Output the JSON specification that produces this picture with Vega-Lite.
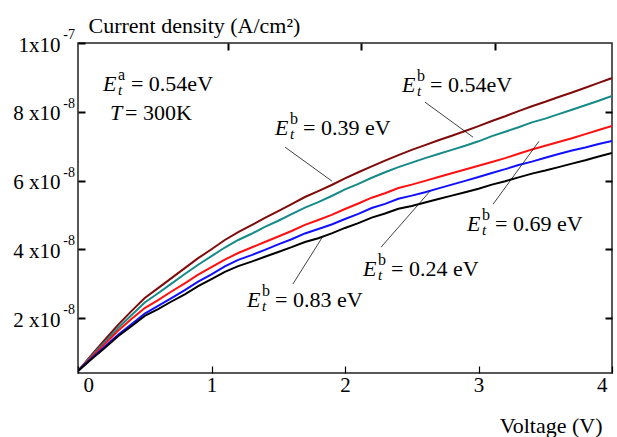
{
  "$schema": "https://vega.github.io/schema/vega-lite/v6.json",
  "width": 534,
  "height": 330,
  "autosize": {"type": "none"},
  "padding": {"left": 78, "top": 43, "right": 5, "bottom": 64},
  "background": "white",
  "datasets": {
    "curves": [
      {"V": 0.0, "e039": 0.46, "e054": 0.46, "e069": 0.46, "e024": 0.46, "e083": 0.46},
      {"V": 0.1, "e039": 0.92, "e054": 0.89, "e069": 0.86, "e024": 0.82, "e083": 0.80},
      {"V": 0.2, "e039": 1.36, "e054": 1.30, "e069": 1.24, "e024": 1.16, "e083": 1.13},
      {"V": 0.3, "e039": 1.80, "e054": 1.71, "e069": 1.63, "e024": 1.51, "e083": 1.47},
      {"V": 0.4, "e039": 2.20, "e054": 2.08, "e069": 1.97, "e024": 1.82, "e083": 1.76},
      {"V": 0.5, "e039": 2.58, "e054": 2.45, "e069": 2.29, "e024": 2.13, "e083": 2.06},
      {"V": 0.6, "e039": 2.87, "e054": 2.72, "e069": 2.52, "e024": 2.35, "e083": 2.26},
      {"V": 0.7, "e039": 3.16, "e054": 3.00, "e069": 2.77, "e024": 2.58, "e083": 2.48},
      {"V": 0.8, "e039": 3.45, "e054": 3.28, "e069": 3.01, "e024": 2.81, "e083": 2.69},
      {"V": 0.9, "e039": 3.74, "e054": 3.55, "e069": 3.26, "e024": 3.06, "e083": 2.93},
      {"V": 1.0, "e039": 4.00, "e054": 3.80, "e069": 3.48, "e024": 3.27, "e083": 3.13},
      {"V": 1.1, "e039": 4.27, "e054": 4.05, "e069": 3.70, "e024": 3.50, "e083": 3.34},
      {"V": 1.2, "e039": 4.50, "e054": 4.27, "e069": 3.89, "e024": 3.69, "e083": 3.51},
      {"V": 1.3, "e039": 4.70, "e054": 4.45, "e069": 4.05, "e024": 3.83, "e083": 3.64},
      {"V": 1.4, "e039": 4.91, "e054": 4.65, "e069": 4.21, "e024": 3.98, "e083": 3.78},
      {"V": 1.5, "e039": 5.11, "e054": 4.83, "e069": 4.37, "e024": 4.14, "e083": 3.92},
      {"V": 1.6, "e039": 5.31, "e054": 5.02, "e069": 4.53, "e024": 4.29, "e083": 4.06},
      {"V": 1.7, "e039": 5.52, "e054": 5.21, "e069": 4.71, "e024": 4.46, "e083": 4.21},
      {"V": 1.8, "e039": 5.69, "e054": 5.37, "e069": 4.85, "e024": 4.59, "e083": 4.32},
      {"V": 1.9, "e039": 5.87, "e054": 5.55, "e069": 5.00, "e024": 4.72, "e083": 4.46},
      {"V": 2.0, "e039": 6.06, "e054": 5.74, "e069": 5.17, "e024": 4.88, "e083": 4.62},
      {"V": 2.1, "e039": 6.24, "e054": 5.90, "e069": 5.33, "e024": 5.03, "e083": 4.76},
      {"V": 2.2, "e039": 6.41, "e054": 6.08, "e069": 5.50, "e024": 5.20, "e083": 4.92},
      {"V": 2.3, "e039": 6.58, "e054": 6.24, "e069": 5.63, "e024": 5.32, "e083": 5.04},
      {"V": 2.4, "e039": 6.74, "e054": 6.39, "e069": 5.78, "e024": 5.47, "e083": 5.18},
      {"V": 2.5, "e039": 6.89, "e054": 6.52, "e069": 5.88, "e024": 5.56, "e083": 5.26},
      {"V": 2.6, "e039": 7.03, "e054": 6.65, "e069": 5.99, "e024": 5.66, "e083": 5.36},
      {"V": 2.7, "e039": 7.17, "e054": 6.77, "e069": 6.10, "e024": 5.77, "e083": 5.46},
      {"V": 2.8, "e039": 7.30, "e054": 6.89, "e069": 6.21, "e024": 5.88, "e083": 5.56},
      {"V": 2.9, "e039": 7.44, "e054": 7.01, "e069": 6.32, "e024": 5.99, "e083": 5.66},
      {"V": 3.0, "e039": 7.58, "e054": 7.14, "e069": 6.43, "e024": 6.10, "e083": 5.76},
      {"V": 3.1, "e039": 7.73, "e054": 7.29, "e069": 6.54, "e024": 6.22, "e083": 5.88},
      {"V": 3.2, "e039": 7.87, "e054": 7.42, "e069": 6.65, "e024": 6.33, "e083": 5.98},
      {"V": 3.3, "e039": 8.02, "e054": 7.55, "e069": 6.78, "e024": 6.45, "e083": 6.09},
      {"V": 3.4, "e039": 8.16, "e054": 7.69, "e069": 6.90, "e024": 6.55, "e083": 6.20},
      {"V": 3.5, "e039": 8.29, "e054": 7.80, "e069": 7.01, "e024": 6.66, "e083": 6.29},
      {"V": 3.6, "e039": 8.43, "e054": 7.93, "e069": 7.12, "e024": 6.77, "e083": 6.39},
      {"V": 3.7, "e039": 8.56, "e054": 8.06, "e069": 7.23, "e024": 6.87, "e083": 6.49},
      {"V": 3.8, "e039": 8.70, "e054": 8.19, "e069": 7.35, "e024": 6.96, "e083": 6.59},
      {"V": 3.9, "e039": 8.84, "e054": 8.32, "e069": 7.47, "e024": 7.06, "e083": 6.70},
      {"V": 4.0, "e039": 8.98, "e054": 8.46, "e069": 7.59, "e024": 7.15, "e083": 6.80}
    ],
    "labels": [
      {"V": 0.187, "J": 8.80, "sup": "a", "rest": "= 0.54eV"},
      {"V": 2.427, "J": 8.77, "sup": "b", "rest": "= 0.54eV"},
      {"V": 1.476, "J": 7.54, "sup": "b", "rest": "= 0.39 eV"},
      {"V": 2.914, "J": 4.73, "sup": "b", "rest": "= 0.69 eV"},
      {"V": 2.135, "J": 3.44, "sup": "b", "rest": "= 0.24 eV"},
      {"V": 1.266, "J": 2.52, "sup": "b", "rest": "= 0.83 eV"}
    ],
    "leaders": [
      {"V1": 1.551, "J1": 6.97, "V2": 1.903, "J2": 5.98},
      {"V1": 2.599, "J1": 8.28, "V2": 2.959, "J2": 7.26},
      {"V1": 3.109, "J1": 5.31, "V2": 3.453, "J2": 7.14},
      {"V1": 2.270, "J1": 4.06, "V2": 2.637, "J2": 5.69},
      {"V1": 1.610, "J1": 2.99, "V2": 1.835, "J2": 4.38}
    ],
    "temp": [{"V": 0.24, "J": 7.96, "rest": "= 300K"}],
    "exps": [
      {"V": 0, "J": 2, "s": "-8"},
      {"V": 0, "J": 4, "s": "-8"},
      {"V": 0, "J": 6, "s": "-8"},
      {"V": 0, "J": 8, "s": "-8"},
      {"V": 0, "J": 10, "s": "-7"}
    ]
  },
  "encoding": {
    "x": {"field": "V", "type": "quantitative", "scale": {"domain": [0, 4], "nice": false, "zero": false}, "axis": null},
    "y": {"field": "J", "type": "quantitative", "scale": {"domain": [0.4, 10], "nice": false, "zero": false}, "axis": null}
  },
  "layer": [
    {
      "data": {"name": "curves"},
      "transform": [{"fold": ["e039", "e054", "e069", "e024", "e083"], "as": ["trap", "J"]}],
      "mark": {"type": "line", "strokeWidth": 2, "clip": true},
      "encoding": {
        "x": {
          "field": "V", "type": "quantitative",
          "scale": {"domain": [0, 4], "nice": false, "zero": false},
          "axis": {
            "orient": "bottom", "values": [0, 1, 2, 3, 4], "tickSize": -7, "tickWidth": 1.2,
            "domain": false, "grid": false, "labelFlush": true, "labelFlushOffset": -5, "labelPadding": 8,
            "title": "Voltage (V)", "titleAlign": "right", "titleAnchor": "end", "titleFontSize": 22,
            "titleX": 524, "titleY": 52, "titleBaseline": "middle"
          }
        },
        "y": {
          "field": "J", "type": "quantitative",
          "scale": {"domain": [0.4, 10], "nice": false, "zero": false},
          "axis": {
            "orient": "left", "values": [2, 4, 6, 8, 10], "tickSize": -7, "tickWidth": 2,
            "domain": false, "grid": false, "labelPadding": 25, "labelOffset": 2,
            "labelExpr": "datum.value == 10 ? '1x10' : datum.value + ' x10'",
            "title": "Current density (A/cm²)", "titleAngle": 0, "titleAlign": "left", "titleFontSize": 22,
            "titleX": 10, "titleY": -18, "titleBaseline": "middle"
          }
        },
        "color": {
          "field": "trap", "type": "nominal", "legend": null,
          "scale": {
            "domain": ["e039", "e054", "e069", "e024", "e083"],
            "range": ["#7f0a0a", "#168a88", "#ff1010", "#1010ff", "#000000"]
          }
        }
      }
    },
    {
      "data": {"name": "leaders"},
      "mark": {"type": "rule", "color": "#111", "strokeWidth": 0.8},
      "encoding": {
        "x": {
          "field": "V1", "type": "quantitative",
          "scale": {"domain": [0, 4], "nice": false, "zero": false},
          "axis": {"orient": "top", "values": [1, 2, 3], "tickSize": -7, "tickWidth": 2, "tickOffset": 16, "labels": false, "domain": false, "grid": false, "title": null}
        },
        "y": {
          "field": "J1", "type": "quantitative",
          "scale": {"domain": [0.4, 10], "nice": false, "zero": false},
          "axis": {"orient": "right", "values": [2, 4, 6, 8], "tickSize": -7, "tickWidth": 2, "labels": false, "domain": false, "grid": false, "title": null}
        },
        "x2": {"field": "V2"},
        "y2": {"field": "J2"}
      }
    },
    {
      "data": {"name": "exps"},
      "mark": {"type": "text", "fontSize": 14, "dx": -3, "dy": -8, "align": "right", "baseline": "middle", "color": "black"},
      "encoding": {"text": {"field": "s"}}
    },
    {
      "data": {"name": "labels"},
      "mark": {"type": "text", "text": "E", "fontStyle": "italic", "fontSize": 22, "align": "left", "baseline": "middle", "color": "black"}
    },
    {
      "data": {"name": "labels"},
      "mark": {"type": "text", "fontSize": 16, "dx": 15, "dy": -9, "align": "left", "baseline": "middle", "color": "black"},
      "encoding": {"text": {"field": "sup"}}
    },
    {
      "data": {"name": "labels"},
      "mark": {"type": "text", "text": "t", "fontStyle": "italic", "fontSize": 15, "dx": 15, "dy": 6, "align": "left", "baseline": "middle", "color": "black"}
    },
    {
      "data": {"name": "labels"},
      "mark": {"type": "text", "fontSize": 22, "dx": 28, "align": "left", "baseline": "middle", "color": "black"},
      "encoding": {"text": {"field": "rest"}}
    },
    {
      "data": {"name": "temp"},
      "mark": {"type": "text", "text": "T", "fontStyle": "italic", "fontSize": 22, "align": "left", "baseline": "middle", "color": "black"}
    },
    {
      "data": {"name": "temp"},
      "mark": {"type": "text", "fontSize": 22, "dx": 15, "align": "left", "baseline": "middle", "color": "black"},
      "encoding": {"text": {"field": "rest"}}
    }
  ],
  "resolve": {"axis": {"x": "independent", "y": "independent"}},
  "config": {
    "font": "Liberation Serif",
    "view": {"stroke": "#222", "strokeWidth": 1.5},
    "axis": {
      "labelFont": "Liberation Serif", "labelFontSize": 21, "labelColor": "black",
      "titleFont": "Liberation Serif", "titleFontSize": 22, "titleFontWeight": "normal", "titleColor": "black",
      "tickColor": "black"
    },
    "text": {"font": "Liberation Serif"}
  }
}
